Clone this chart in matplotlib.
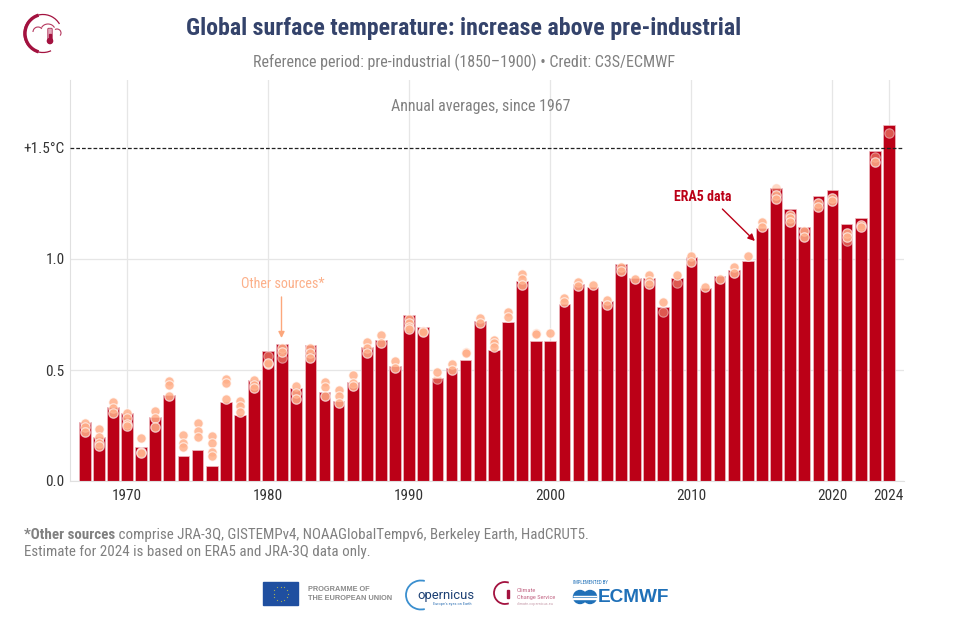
#!/usr/bin/env python3
"""Global surface temperature bars (ERA5) with dots for the other datasets."""

import matplotlib
matplotlib.use("Agg")
import matplotlib.pyplot as plt
from matplotlib.patches import Arc, Circle, FancyBboxPatch, Rectangle
import numpy as np

plt.rcParams["font.family"] = ["Roboto Condensed", "Roboto", "DejaVu Sans"]

years = list(range(1967, 2025))
era5 = [
    0.264, 0.200, 0.332, 0.305, 0.152, 0.288, 0.387, 0.114, 0.138, 0.069,
    0.354, 0.297, 0.453, 0.584, 0.617, 0.417, 0.611, 0.401, 0.360, 0.446,
    0.604, 0.635, 0.518, 0.749, 0.692, 0.462, 0.507, 0.545, 0.719, 0.590,
    0.715, 0.899, 0.632, 0.629, 0.796, 0.886, 0.872, 0.809, 0.976, 0.915,
    0.916, 0.785, 0.916, 1.010, 0.869, 0.922, 0.949, 0.991, 1.138, 1.318,
    1.224, 1.146, 1.282, 1.311, 1.156, 1.183, 1.485, 1.602,
]

# other datasets, one list per year
others = [
    [0.263, 0.242, 0.222], [0.233, 0.200, 0.173, 0.159], [0.354, 0.327, 0.305],
    [0.308, 0.282, 0.257, 0.248], [0.195, 0.130, 0.128], [0.315, 0.282, 0.242],
    [0.449, 0.431, 0.383], [0.206, 0.170, 0.155], [0.263, 0.227, 0.198],
    [0.203, 0.173, 0.132, 0.113], [0.459, 0.440, 0.368], [0.360, 0.338, 0.312],
    [0.455, 0.432, 0.417], [0.527, 0.530], [0.598, 0.583],
    [0.426, 0.395, 0.368], [0.598, 0.575, 0.553], [0.446, 0.422, 0.383],
    [0.411, 0.384, 0.350], [0.479, 0.443, 0.429], [0.628, 0.598, 0.575],
    [0.658, 0.620], [0.539, 0.508], [0.730, 0.710, 0.695, 0.683], [0.674, 0.671],
    [0.492], [0.527, 0.500], [0.583, 0.575], [0.733, 0.713],
    [0.635, 0.620, 0.602], [0.763, 0.740], [0.931, 0.908, 0.881], [0.665, 0.662],
    [0.665], [0.823, 0.805], [0.898, 0.880], [0.883], [0.815, 0.793],
    [0.965, 0.947], [0.908], [0.928, 0.902, 0.886], [0.806], [0.928],
    [1.014, 0.988], [0.872], [0.910], [0.962, 0.935], [1.014], [1.168, 1.143],
    [1.288, 1.269], [1.198, 1.186, 1.168], [1.128, 1.100], [1.251, 1.233],
    [1.273, 1.263], [1.116, 1.098], [1.153, 1.143], [1.438], [],
]

# single-source dots, which read darker over the bars
faint_years = [1980, 1981, 1992, 2008, 2009, 2016, 2021, 2023, 2024]
faint_values = [0.565, 0.553, 0.458, 0.761, 0.893, 1.318, 1.081, 1.461, 1.569]

x_ticks = [1970, 1980, 1990, 2000, 2010, 2020, 2024]
y_ticks = [0.0, 0.5, 1.0, 1.5]
y_labels = ["0.0", "0.5", "1.0", "+1.5°C"]

RED = "#bb0017"
DOT = (1.0, 0.69, 0.54)
NAVY = "#34436b"
GREY = "#808080"
LOGO_RED = "#a3123f"
W, H = 963, 628

fig = plt.figure(figsize=(W / 100, H / 100), dpi=100)
ax = fig.add_axes([70 / W, 1 - 481 / H, (904 - 70) / W, (481 - 80) / H])

ax.bar(years, era5, width=0.83, color=RED, edgecolor="#eebcc2", linewidth=0.5, zorder=2)

dot_x = [y for y, vals in zip(years, others) for _ in vals]
dot_y = [v for vals in others for v in vals]
ax.scatter(faint_years, faint_values, s=46, facecolors=[DOT + (0.5,)],
           edgecolors=[(1, 1, 1, 0.45)], linewidths=0.8, zorder=3)
ax.scatter(dot_x, dot_y, s=46, facecolors=[DOT + (0.85,)],
           edgecolors=[(1, 1, 1, 0.65)], linewidths=0.9, zorder=4)

ax.set_xlim(1965.96, 2025.07)
ax.set_ylim(0, (481 - 80) / 222)
ax.set_xticks(x_ticks)
ax.set_yticks(y_ticks, y_labels)
ax.tick_params(length=0, labelsize=11, labelcolor="#333333")
ax.tick_params(axis="y", pad=4)
ax.tick_params(axis="x", pad=6)
ax.grid(True, color="#e6e6e6", linewidth=0.9, zorder=0)
ax.set_axisbelow(True)
for side in ("top", "right"):
    ax.spines[side].set_visible(False)
for side in ("left", "bottom"):
    ax.spines[side].set_color("#e0e0e0")

# the 1.5 line is dashed black rather than a normal gridline
ax.get_ygridlines()[3].set_visible(False)
ax.axhline(1.5, color="#222222", linewidth=0.9, dashes=(3, 1.6), zorder=5)

ax.annotate("", xy=(1980.95, 0.644), xytext=(1980.95, 0.829),
            arrowprops=dict(arrowstyle="-|>", color="#fca77c", lw=1, mutation_scale=9,
                            shrinkA=0, shrinkB=0))
ax.text(1981.05, 0.886, "Other sources*", color="#fcb08a", fontsize=10.2,
        ha="center", va="center")
ax.annotate("", xy=(2014.5, 1.081), xytext=(2012.2, 1.225),
            arrowprops=dict(arrowstyle="-|>", color=RED, lw=1, mutation_scale=10,
                            shrinkA=0, shrinkB=0))
ax.text(2010.8, 1.28, "ERA5 data", color=RED, fontsize=10.1, fontweight="bold",
        ha="center", va="center")
ax.text(1995.1, 1.686, "Annual averages, since 1967", color=GREY, fontsize=11.5,
        ha="center", va="center")

# page furniture, placed in pixel coordinates
page = fig.add_axes([0, 0, 1, 1], zorder=10)
page.set_xlim(0, W)
page.set_ylim(H, 0)
page.axis("off")

page.text(464, 29, "Global surface temperature: increase above pre-industrial",
          color=NAVY, fontsize=17.2, fontweight="bold", ha="center", va="center")
page.text(464, 62, "Reference period: pre-industrial (1850–1900) • Credit: C3S/ECMWF",
          color=GREY, fontsize=11.5, ha="center", va="center")

lead = page.text(24, 535, "*Other sources", color=GREY, fontsize=10.8, fontweight="bold",
                 va="center")
page.annotate(" comprise JRA-3Q, GISTEMPv4, NOAAGlobalTempv6, Berkeley Earth, HadCRUT5.",
              xy=(1, 0.5), xycoords=lead, color=GREY, fontsize=10.8, va="center")
page.text(24, 552, "Estimate for 2024 is based on ERA5 and JRA-3Q data only.",
          color=GREY, fontsize=10.8, va="center")

# top-left C3S logo
page.add_patch(Arc((43, 33.5), 38, 38, theta1=65, theta2=330, color=LOGO_RED, lw=0.9))
page.add_patch(Arc((43.5, 33.5), 37, 38, theta1=105, theta2=255, color=LOGO_RED, lw=2.4))
page.add_patch(Arc((38, 32), 10, 10, theta1=180, theta2=320, color="#b5395f", lw=0.8))
page.add_patch(Arc((48, 30), 14, 12, theta1=200, theta2=340, color="#b5395f", lw=0.8))
page.add_patch(Arc((57, 33), 8, 8, theta1=240, theta2=400, color="#b5395f", lw=0.8))
page.add_patch(FancyBboxPatch((48.6, 29), 2.8, 12, boxstyle="round,pad=0.8", fc="#e3a9bb",
                              ec=LOGO_RED, lw=0.5))
page.add_patch(Rectangle((49.4, 34), 1.2, 7, color=LOGO_RED))
page.add_patch(Circle((50, 41), 2.6, color=LOGO_RED))

# funder logos along the bottom
page.add_patch(Rectangle((263, 582), 35, 23, color="#1f4fa0"))
star_angle = np.linspace(0, 2 * np.pi, 12, endpoint=False)
page.scatter(280.5 + 7 * np.cos(star_angle), 593.5 + 7 * np.sin(star_angle), s=1.6,
             color="#e0d63a", marker="*", linewidths=0)
page.text(308, 589.5, "PROGRAMME OF", color="#8a8a8a", fontsize=5.3, fontweight="bold",
          family=["Liberation Sans", "DejaVu Sans"], va="center")
page.text(308, 598, "THE EUROPEAN UNION", color="#8a8a8a", fontsize=5.3, fontweight="bold",
          family=["Liberation Sans", "DejaVu Sans"], va="center")

page.add_patch(Arc((421, 595), 30, 29, theta1=75, theta2=285, color="#3a8fcf", lw=1.3))
page.text(417, 596, "opernicus", color="#1b3f73", fontsize=9.4, va="center",
          family=["Roboto", "DejaVu Sans"])
page.text(433, 604.5, "Europe's eyes on Earth", color="#3a78b8", fontsize=3.2, va="center")

page.add_patch(Arc((505, 593), 22, 22, theta1=70, theta2=290, color=LOGO_RED, lw=1.3))
page.add_patch(Rectangle((506.5, 590), 2, 8, color=LOGO_RED))
page.text(517, 590.5, "Climate", color="#c46a88", fontsize=4.6, va="center")
page.text(517, 597, "Change Service", color="#c46a88", fontsize=4.6, va="center")
page.text(517, 603.5, "climate.copernicus.eu", color="#c9a0ae", fontsize=3.1, va="center")

page.text(573, 583, "IMPLEMENTED BY", color="#1f70b8", fontsize=3.5, va="center")
page.add_patch(Circle((580, 597), 6.5, color="#1f70b8"))
page.add_patch(Circle((590, 597), 6.5, color="#1f70b8"))
page.add_patch(Rectangle((573, 595.6), 24, 0.7, color="white"))
page.add_patch(Rectangle((573, 598), 24, 0.7, color="white"))
page.text(598, 597, "ECMWF", color="#1f70b8", fontsize=13.7, fontweight="bold", va="center",
          family=["Liberation Sans", "DejaVu Sans"])

fig.savefig("out.png", dpi=100)
